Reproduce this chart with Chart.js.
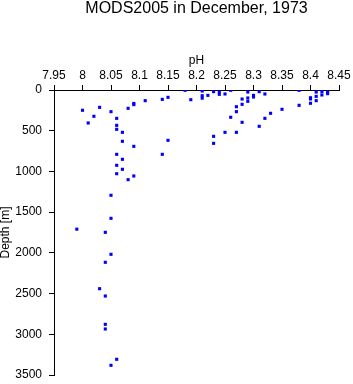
<!DOCTYPE html>
<html>
<head>
<meta charset="utf-8">
<script src="https://cdn.jsdelivr.net/npm/chart.js@4/dist/chart.umd.min.js"></script>
<style>
html,body{margin:0;padding:0;background:#fff;}
canvas{display:block;}
</style>
</head>
<body>
<canvas id="c" width="353" height="384"></canvas>
<script>
const chartTitle = "MODS2005 in December, 1973";
const xAxisTitle = "pH";
const yAxisTitle = "Depth [m]";
const xTickValues = [7.95,8,8.05,8.1,8.15,8.2,8.25,8.3,8.35,8.4,8.45];
const xTickLabels = ["7.95","8","8.05","8.1","8.15","8.2","8.25","8.3","8.35","8.4","8.45"];
const yTickValues = [0,500,1000,1500,2000,2500,3000,3500];
const yTickLabels = ["0","500","1000","1500","2000","2500","3000","3500"];
const phValues = [
  8.00,8.03,8.02,8.01,8.05,8.06,8.06,8.06,8.07,8.07,8.09,8.06,8.08,8.09,8.09,8.11,
  8.07,8.06,8.07,8.06,8.09,8.08,8.05,8.05,7.99,8.04,8.05,8.04,8.03,8.04,8.04,8.04,8.06,8.05,
  8.14,8.15,8.18,8.19,8.21,8.21,8.21,8.22,8.23,8.24,8.24,8.25,8.26,8.27,8.27,8.26,8.25,8.27,
  8.23,8.23,8.15,8.14,8.29,8.28,8.29,8.30,8.30,8.29,8.28,8.31,8.32,8.35,8.33,8.32,8.28,8.31,
  8.38,8.38,8.40,8.40,8.40,8.41,8.41,8.41,8.42,8.42,8.43,8.43
];
const depthValues = [
  249,213,323,405,266,348,434,483,520,630,692,790,225,165,180,131,
  851,925,974,1028,1056,1101,1293,1576,1709,1748,2018,2116,2440,2530,2878,2935,3307,3381,
  115,90,4,119,12,70,100,66,20,25,53,49,4,205,266,335,520,520,
  569,655,618,790,25,111,98,66,86,139,176,20,49,237,286,348,397,446,
  4,188,95,110,163,25,78,131,20,61,25,45
];

const points = phValues.map((v, i) => ({x: v, y: depthValues[i]}));
const FONT = "'Liberation Sans', Arial, Helvetica, sans-serif";

function labelFor(values, labels, v) {
  let best = 0;
  for (let i = 1; i < values.length; i++) {
    if (Math.abs(values[i] - v) < Math.abs(values[best] - v)) best = i;
  }
  return labels[best];
}

const titlePlugin = {
  id: 'mainTitle',
  afterDraw(chart) {
    const ctx = chart.ctx;
    const a = chart.chartArea;
    ctx.save();
    ctx.fillStyle = '#000';
    ctx.font = "16px " + FONT;
    ctx.textAlign = 'center';
    ctx.textBaseline = 'middle';
    ctx.fillText(chartTitle, (a.left + a.right) / 2, 9);
    ctx.restore();
  }
};

new Chart(document.getElementById('c'), {
  type: 'scatter',
  data: {
    datasets: [{
      data: points,
      backgroundColor: '#0000ff',
      borderWidth: 0,
      pointStyle: 'rect',
      pointRadius: 2.2,
      pointHoverRadius: 2.2
    }]
  },
  plugins: [titlePlugin],
  options: {
    responsive: false,
    animation: false,
    events: [],
    layout: {padding: {left: 0, top: 50, right: 14, bottom: 9}},
    plugins: {legend: {display: false}, tooltip: {enabled: false}, title: {display: false}},
    scales: {
      x: {
        type: 'linear',
        position: 'top',
        min: xTickValues[0],
        max: xTickValues[xTickValues.length - 1],
        afterFit(s) { s.height = 40; s.paddingRight = 0; s.paddingLeft = 0; },
        ticks: {
          stepSize: 0.05,
          color: '#000',
          font: {family: FONT, size: 12},
          padding: 2,
          maxRotation: 0,
          autoSkip: false,
          callback: (v) => labelFor(xTickValues, xTickLabels, v)
        },
        grid: {display: true, drawOnChartArea: false, drawTicks: true, tickLength: 5, color: '#000', lineWidth: 1},
        border: {display: true, color: '#000', width: 1},
        title: {display: true, text: xAxisTitle, color: '#000', font: {family: FONT, size: 12}, padding: {top: 3, bottom: 0}}
      },
      y: {
        type: 'linear',
        reverse: true,
        min: yTickValues[0],
        max: yTickValues[yTickValues.length - 1],
        afterFit(s) { s.width = 54; s.paddingTop = 0; s.paddingBottom = 0; },
        ticks: {
          stepSize: 500,
          color: '#000',
          font: {family: FONT, size: 12},
          padding: 7,
          autoSkip: false,
          callback: (v) => labelFor(yTickValues, yTickLabels, v)
        },
        grid: {display: true, drawOnChartArea: false, drawTicks: true, tickLength: 5, color: '#000', lineWidth: 1},
        border: {display: true, color: '#000', width: 1},
        title: {display: true, text: yAxisTitle, color: '#000', font: {family: FONT, size: 12, lineHeight: 1}, padding: {top: 0, bottom: 0}}
      }
    }
  }
});
</script>
</body>
</html>
